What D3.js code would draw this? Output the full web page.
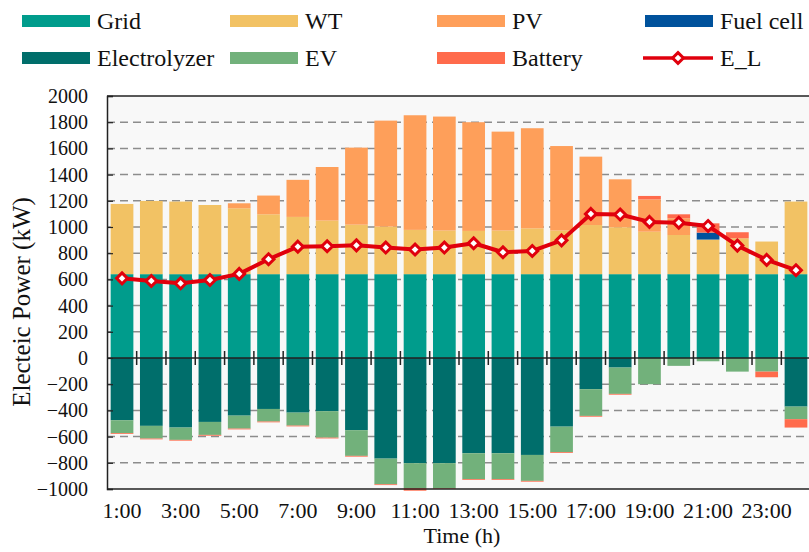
<!DOCTYPE html>
<html>
<head>
<meta charset="utf-8">
<script src="https://cdn.jsdelivr.net/npm/d3@7"></script>
<style>
  html, body { margin: 0; padding: 0; background: #ffffff; }
  svg { display: block; }
  text { font-family: "Liberation Serif", "Times New Roman", serif; fill: #111; }
</style>
</head>
<body>
<svg id="chart" width="809" height="552"></svg>
<script>
// ---------------- data ----------------
const hours = ["1:00","2:00","3:00","4:00","5:00","6:00","7:00","8:00","9:00","10:00","11:00","12:00",
               "13:00","14:00","15:00","16:00","17:00","18:00","19:00","20:00","21:00","22:00","23:00","24:00"];
const tickLabels = ["1:00","3:00","5:00","7:00","9:00","11:00","13:00","15:00","17:00","19:00","21:00","23:00"];
const yTicks = [-1000,-800,-600,-400,-200,0,200,400,600,800,1000,1200,1400,1600,1800,2000];

const grid      = [640,640,640,640,640,640,640,640,640,640,640,640,640,640,640,640,640,640,640,640,640,640,640,640];
const wt        = [536,559,554,528,503,457,437,409,378,363,338,333,330,333,350,333,375,358,324,299,264,274,249,554];
const fuelCell  = [0,0,0,0,0,0,0,0,0,0,0,0,0,0,0,0,0,0,0,0,53,0,0,0];
const pv        = [0,0,0,0,38,143,283,409,588,809,875,870,830,755,764,645,522,366,247,128,0,0,0,0];
const batDis    = [0,0,0,0,0,0,0,0,0,0,0,0,0,0,0,0,0,0,26,30,71,46,0,0];
const electrolyzer = [-475,-518,-531,-488,-440,-389,-417,-406,-551,-768,-803,-803,-727,-727,-740,-524,-238,-73,0,0,0,0,0,-371];
const ev        = [-99,-97,-94,-99,-99,-96,-99,-202,-196,-196,-190,-192,-198,-198,-198,-195,-204,-201,-200,-60,-25,-104,-104,-96];
const batCh     = [-6,-6,-6,-6,-6,-6,-6,-6,-6,-6,-20,-5,-6,-6,-6,-6,-6,-6,0,0,0,0,-43,-64];
const eLoad     = [608,588,570,595,642,754,850,853,860,843,828,843,876,807,817,898,1100,1095,1039,1033,1008,858,749,670];

const colors = {
  Grid: "#009c8c", WT: "#f2c264", PV: "#fe9f5a", "Fuel cell": "#00529c",
  Electrolyzer: "#006e6b", EV: "#72b17b", Battery: "#ff6b4c", E_L: "#e0000d"
};

// ---------------- layout ----------------
const svg = d3.select("#chart");
const pL = 107, pR = 811, pT = 96, pB = 489;

const x = d3.scaleBand().domain(hours).range([pL, pR]).paddingInner(0.225).paddingOuter(0.125);
const y = d3.scaleLinear().domain([-1000, 2000]).range([pB, pT]);

// plot background
svg.append("rect").attr("x", pL).attr("y", pT).attr("width", pR - pL).attr("height", pB - pT)
  .attr("fill", "#f8f8f8");

// dashed gridlines
svg.append("g").selectAll("line").data(yTicks.filter(v => v !== 0 && v !== 2000 && v !== -1000)).join("line")
  .attr("x1", pL).attr("x2", pR).attr("y1", d => y(d)).attr("y2", d => y(d))
  .attr("stroke", "#8c8c8c").attr("stroke-width", 1.5).attr("stroke-dasharray", "8,5");

// stacked bars
const posSeries = [["Grid", grid], ["WT", wt], ["Fuel cell", fuelCell], ["PV", pv], ["Battery", batDis]];
const negSeries = [["Electrolyzer", electrolyzer], ["EV", ev], ["Battery", batCh]];

function drawStack(series) {
  const base = hours.map(() => 0);
  series.forEach(([name, vals]) => {
    const segs = hours.map((h, i) => {
      const y0 = base[i], y1 = base[i] + vals[i];
      base[i] = y1;
      return { h, y0, y1 };
    }).filter(d => d.y0 !== d.y1);
    svg.append("g").selectAll("rect").data(segs).join("rect")
      .attr("x", d => x(d.h)).attr("width", x.bandwidth())
      .attr("y", d => y(Math.max(d.y0, d.y1)))
      .attr("height", d => Math.abs(y(d.y0) - y(d.y1)))
      .attr("fill", colors[name]);
  });
}
drawStack(posSeries);
drawStack(negSeries);

// axes frame
svg.append("line").attr("x1", pL).attr("x2", pR).attr("y1", pT).attr("y2", pT).attr("stroke", "#222").attr("stroke-width", 1.5);
svg.append("line").attr("x1", pL).attr("x2", pR).attr("y1", pB).attr("y2", pB).attr("stroke", "#222").attr("stroke-width", 1.5);

// y axis
const yAxis = d3.axisLeft(y).tickValues(yTicks).tickSize(-6).tickPadding(19).tickFormat(d3.format("d"));
const gy = svg.append("g").attr("transform", `translate(${pL},0)`).call(yAxis);
gy.select(".domain").attr("stroke", "#222").attr("stroke-width", 1.5);
gy.selectAll(".tick line").attr("stroke", "#222").attr("stroke-width", 1.2);
gy.selectAll(".tick text").attr("font-size", 20).attr("font-family", "Liberation Serif").attr("fill", "#111");

// zero line with crossing ticks at band boundaries
svg.append("line").attr("x1", pL).attr("x2", pR).attr("y1", y(0)).attr("y2", y(0)).attr("stroke", "#222").attr("stroke-width", 1.5);
const step = x.step();
svg.append("g").selectAll("line").data(hours.slice(0, -1)).join("line")
  .attr("x1", d => x(d) + x.bandwidth() + (step - x.bandwidth()) / 2)
  .attr("x2", d => x(d) + x.bandwidth() + (step - x.bandwidth()) / 2)
  .attr("y1", y(0) - 7).attr("y2", y(0) + 7)
  .attr("stroke", "#222").attr("stroke-width", 1.5);

// x tick labels (bottom)
const xAxis = d3.axisBottom(x).tickValues(tickLabels).tickSize(0).tickPadding(13);
const gx = svg.append("g").attr("transform", `translate(0,${pB})`).call(xAxis);
gx.select(".domain").remove();
gx.selectAll(".tick text").attr("font-size", 22).attr("font-family", "Liberation Serif").attr("fill", "#111");

// E_L line
const line = d3.line().x((d, i) => x(hours[i]) + x.bandwidth() / 2).y(d => y(d));
svg.append("path").datum(eLoad).attr("d", line).attr("fill", "none")
  .attr("stroke", colors.E_L).attr("stroke-width", 4).attr("stroke-linejoin", "round");
const diamond = d3.symbol().type(d3.symbolDiamond2).size(75);
svg.append("g").selectAll("path").data(eLoad).join("path")
  .attr("transform", (d, i) => `translate(${x(hours[i]) + x.bandwidth() / 2},${y(d)})`)
  .attr("d", diamond).attr("fill", "#fff").attr("stroke", colors.E_L).attr("stroke-width", 3);

// axis titles
svg.append("text").attr("x", 462).attr("y", 543).attr("text-anchor", "middle").attr("font-size", 22).text("Time (h)");
svg.append("text").attr("transform", "translate(30,302) rotate(-90)").attr("text-anchor", "middle")
  .attr("font-size", 25).text("Electeic Power (kW)");

// legend
const legendItems = [
  { name: "Grid", col: 0, row: 0, type: "rect" },
  { name: "WT", col: 1, row: 0, type: "rect" },
  { name: "PV", col: 2, row: 0, type: "rect" },
  { name: "Fuel cell", col: 3, row: 0, type: "rect" },
  { name: "Electrolyzer", col: 0, row: 1, type: "rect" },
  { name: "EV", col: 1, row: 1, type: "rect" },
  { name: "Battery", col: 2, row: 1, type: "rect" },
  { name: "E_L", col: 3, row: 1, type: "line" }
];
const colX = [22, 230, 437, 645], rowY = [21, 58];
const lg = svg.append("g").selectAll("g").data(legendItems).join("g")
  .attr("transform", d => `translate(${colX[d.col]},${rowY[d.row]})`);
lg.filter(d => d.type === "rect").append("rect")
  .attr("x", 0).attr("y", -6).attr("width", 68).attr("height", 12).attr("fill", d => colors[d.name]);
const lineItems = lg.filter(d => d.type === "line");
lineItems.append("line").attr("x1", -2).attr("x2", 68).attr("y1", 0).attr("y2", 0)
  .attr("stroke", colors.E_L).attr("stroke-width", 3.5);
lineItems.append("path").attr("transform", "translate(33,0)").attr("d", diamond)
  .attr("fill", "#fff").attr("stroke", colors.E_L).attr("stroke-width", 3);
lg.append("text").attr("x", 75).attr("y", 8).attr("font-size", 24).text(d => d.name);
</script>
</body>
</html>
